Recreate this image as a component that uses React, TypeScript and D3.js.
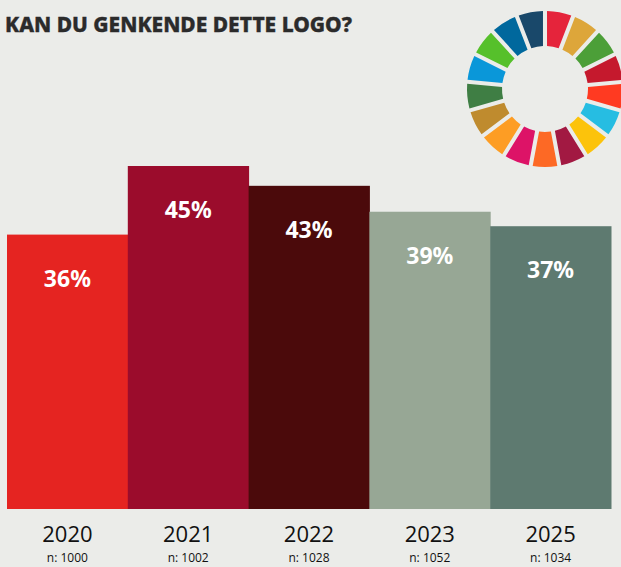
import React from "react";
import * as d3 from "d3";

const years = ["2020", "2021", "2022", "2023", "2025"];
// bar heights (percent)
const values = [36, 45, 42.4, 39, 37.1];
const valueLabels = ["36%", "45%", "43%", "39%", "37%"];
const sampleSizes = ["n: 1000", "n: 1002", "n: 1028", "n: 1052", "n: 1034"];
const barColors = ["#E52421", "#9B0C2C", "#4B0A0B", "#97A795", "#5E7A70"];
const sdgColors = [
  "#E5243B", "#DDA63A", "#4C9F38", "#C5192D", "#FF3A21", "#26BDE2",
  "#FCC30B", "#A21942", "#FD6925", "#DD1367", "#FD9D24", "#BF8B2E",
  "#3F7E44", "#0A97D9", "#56C02B", "#00689D", "#19486A",
];
const title = "KAN DU GENKENDE DETTE LOGO?";

const W = 621;
const H = 567;

export default function App() {
  const x = d3.scaleBand().domain(years).range([7, 611]).paddingInner(0).paddingOuter(0);
  const y = d3.scaleLinear().domain([0, 45]).range([509, 166]);

  const pie = d3.pie<string>().value(() => 1).sort(null);
  const arcs = pie(sdgColors);
  const arc = d3
    .arc<d3.PieArcDatum<string>>()
    .innerRadius(43)
    .outerRadius(78)
    .padAngle(0.045)
    .padRadius(90);

  return (
    <svg
      width={W}
      height={H}
      style={{ position: "absolute", left: 0, top: 0, background: "#EBECE9" }}
    >
      <rect x={0} y={0} width={W} height={H} fill="#EBECE9" />
      <text
        x={5}
        y={31.5}
        fontFamily="'Noto Sans', sans-serif"
        fontWeight={800}
        fontSize={22}
        fill="#2B2B2B"
        stroke="#2B2B2B"
        strokeWidth={0.4}
        textLength={347}
        lengthAdjust="spacingAndGlyphs"
      >
        {title}
      </text>
      <g transform="translate(545,89)">
        {arcs.map((a, i) => (
          <path key={i} d={arc(a) || ""} fill={a.data} />
        ))}
      </g>
      {years.map((yr, i) => {
        const bx = x(yr)!;
        const bw = x.bandwidth();
        const top = y(values[i]);
        return (
          <g key={yr}>
            <rect x={bx} y={top} width={bw + 0.5} height={y(0) - top} fill={barColors[i]} />
            <text
              x={bx + bw / 2}
              y={top + 52}
              textAnchor="middle"
              fontFamily="'Noto Sans', sans-serif"
              fontWeight={700}
              fontSize={23}
              fill="#FFFFFF"
            >
              {valueLabels[i]}
            </text>
            <text
              x={bx + bw / 2}
              y={542}
              textAnchor="middle"
              fontFamily="'Open Sans', sans-serif"
              fontSize={22}
              fill="#111111"
            >
              {yr}
            </text>
            <text
              x={bx + bw / 2}
              y={562}
              textAnchor="middle"
              fontFamily="'Open Sans', sans-serif"
              fontSize={12}
              fill="#111111"
            >
              {sampleSizes[i]}
            </text>
          </g>
        );
      })}
    </svg>
  );
}
